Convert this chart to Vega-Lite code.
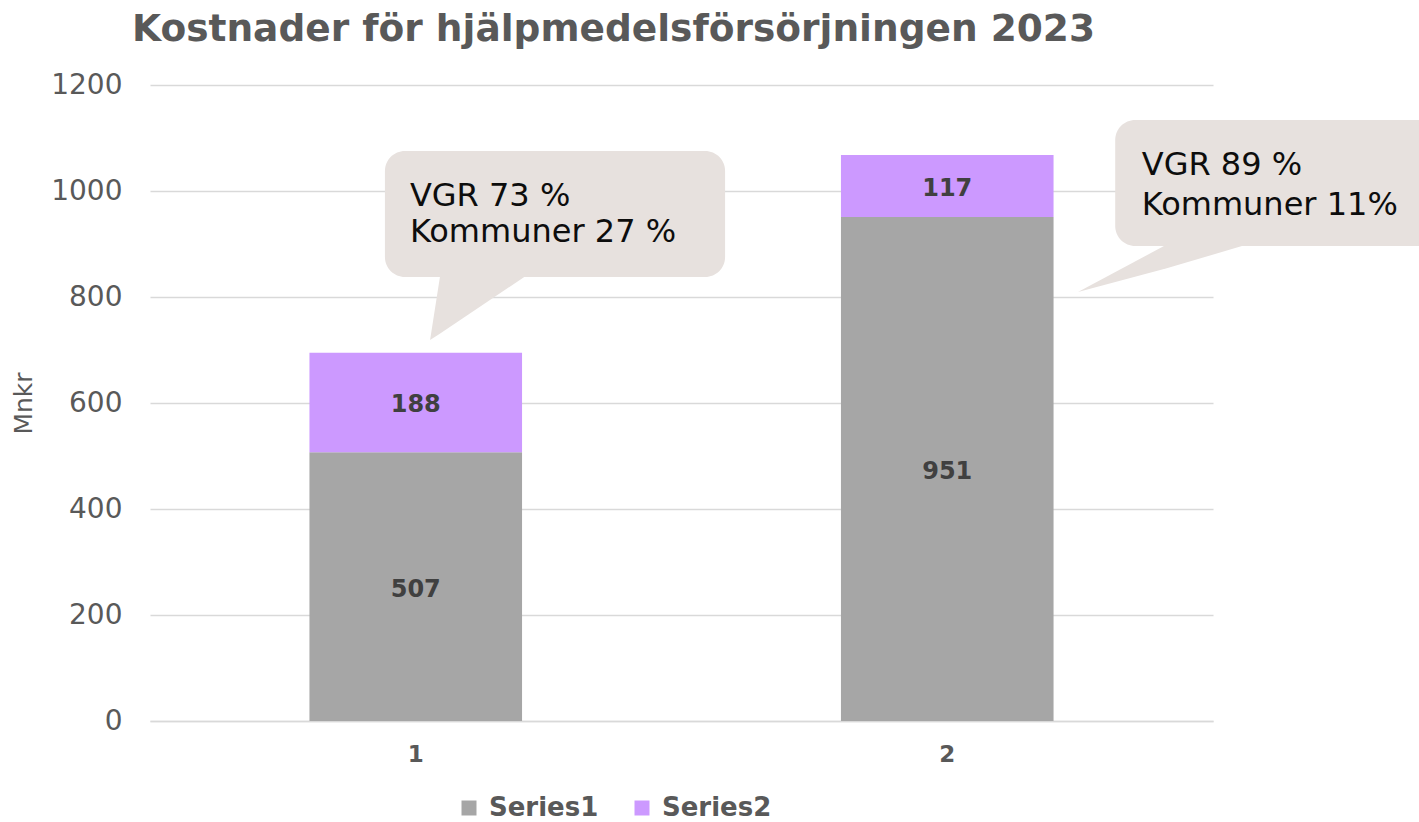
{
  "$schema": "https://vega.github.io/schema/vega-lite/v6.json",
  "width": 1063,
  "height": 636,
  "autosize": {"type": "none"},
  "padding": {"left": 150, "top": 85, "right": 206, "bottom": 101},
  "background": "white",
  "title": {
    "text": "Kostnader för hjälpmedelsförsörjningen 2023",
    "anchor": "start",
    "frame": "group",
    "dx": -18,
    "offset": 23,
    "font": "DejaVu Sans",
    "fontSize": 37.5,
    "fontWeight": "bold",
    "color": "#595959"
  },
  "config": {
    "view": {"stroke": null},
    "font": "DejaVu Sans"
  },
  "datasets": {
    "bars": [
      {"cat": "1", "series": "Series1", "value": 507},
      {"cat": "1", "series": "Series2", "value": 188},
      {"cat": "2", "series": "Series1", "value": 951},
      {"cat": "2", "series": "Series2", "value": 117}
    ],
    "bubbles": [
      {"id": "a", "x": 0.942, "x2": 1.582, "y": 1075.5, "y2": 837.7},
      {"id": "b", "x": 2.316, "x2": 2.95, "y": 1134, "y2": 896.2}
    ],
    "tails": [
      {"tail": "a", "x": 1.027, "y": 718.9, "y2": 718.9},
      {"tail": "a", "x": 1.046, "y": 841, "y2": 731.1},
      {"tail": "a", "x": 1.209, "y": 841, "y2": 841},
      {"tail": "b", "x": 2.246, "y": 809.4, "y2": 809.4},
      {"tail": "b", "x": 2.413, "y": 899, "y2": 854.1},
      {"tail": "b", "x": 2.564, "y": 899, "y2": 899}
    ],
    "notes": [
      {"x": 0.989, "y": 971.7, "label": "VGR 73 %"},
      {"x": 0.989, "y": 904.3, "label": "Kommuner 27 %"},
      {"x": 2.366, "y": 1030.2, "label": "VGR 89 %"},
      {"x": 2.366, "y": 954.7, "label": "Kommuner 11%"}
    ]
  },
  "resolve": {"scale": {"x": "independent"}, "axis": {"x": "independent"}},
  "layer": [
    {
      "data": {"name": "bars"},
      "layer": [
        {
          "mark": {"type": "bar"},
          "encoding": {
            "x": {
              "field": "cat", "type": "ordinal",
              "scale": {"paddingInner": 0.6, "paddingOuter": 0.3},
              "axis": {
                "title": null, "labelAngle": 0, "labelFont": "DejaVu Sans",
                "labelFontSize": 23, "labelFontWeight": "bold", "labelColor": "#595959",
                "domain": true, "domainColor": "#D9D9D9", "domainWidth": 1.5,
                "ticks": false, "tickSize": 0, "labelPadding": 22, "grid": false
              }
            },
            "y": {
              "field": "value", "type": "quantitative", "stack": "zero",
              "scale": {"domain": [0, 1200]},
              "axis": {
                "values": [0, 200, 400, 600, 800, 1000, 1200], "format": "d",
                "title": "Mnkr", "titleFont": "DejaVu Sans", "titleFontSize": 25,
                "titleFontWeight": "normal", "titleColor": "#595959", "titlePadding": 14,
                "labelFont": "DejaVu Sans", "labelFontSize": 28, "labelColor": "#595959",
                "grid": true, "gridColor": "#D9D9D9", "gridWidth": 1.5,
                "domain": false, "ticks": false, "tickSize": 0, "labelPadding": 28
              }
            },
            "order": {"field": "series", "sort": "ascending"},
            "color": {
              "field": "series", "type": "nominal",
              "scale": {"domain": ["Series1", "Series2"], "range": ["#A6A6A6", "#CC99FF"]},
              "legend": {
                "title": null, "orient": "none", "legendX": 306, "legendY": 710,
                "direction": "horizontal", "symbolType": "square", "symbolSize": 225,
                "symbolStrokeWidth": 0, "labelFont": "DejaVu Sans", "labelFontSize": 26,
                "labelFontWeight": "bold", "labelColor": "#595959",
                "columnPadding": 30, "labelOffset": 7
              }
            }
          }
        },
        {
          "mark": {"type": "text", "font": "DejaVu Sans", "fontSize": 24, "fontWeight": "bold", "color": "#404040", "baseline": "middle", "dy": 3},
          "encoding": {
            "x": {"field": "cat", "type": "ordinal"},
            "y": {"field": "value", "type": "quantitative", "stack": "zero", "bandPosition": 0.5},
            "order": {"field": "series", "sort": "ascending"},
            "detail": {"field": "series"},
            "text": {"field": "value", "type": "quantitative"}
          }
        }
      ]
    },
    {
      "data": {"name": "bubbles"},
      "mark": {"type": "rect", "cornerRadius": 20, "color": "#E7E1DE"},
      "encoding": {
        "x": {"field": "x", "type": "quantitative", "scale": {"domain": [0.5, 2.5]}, "axis": null},
        "x2": {"field": "x2"},
        "y": {"field": "y", "type": "quantitative"},
        "y2": {"field": "y2"}
      }
    },
    {
      "data": {"name": "tails"},
      "mark": {"type": "area", "color": "#E7E1DE"},
      "encoding": {
        "x": {"field": "x", "type": "quantitative", "scale": {"domain": [0.5, 2.5]}, "axis": null},
        "y": {"field": "y", "type": "quantitative", "stack": null},
        "y2": {"field": "y2"},
        "detail": {"field": "tail"}
      }
    },
    {
      "data": {"name": "notes"},
      "mark": {"type": "text", "font": "DejaVu Sans", "fontSize": 32, "color": "#0D0D0D", "align": "left", "baseline": "alphabetic"},
      "encoding": {
        "x": {"field": "x", "type": "quantitative", "scale": {"domain": [0.5, 2.5]}, "axis": null},
        "y": {"field": "y", "type": "quantitative"},
        "text": {"field": "label"}
      }
    }
  ]
}
